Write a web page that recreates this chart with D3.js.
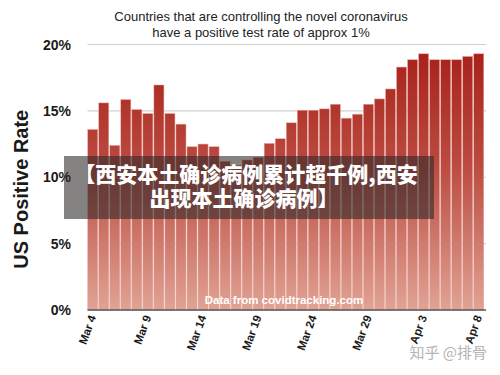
<!DOCTYPE html>
<html>
<head>
<meta charset="utf-8">
<script src="https://cdn.jsdelivr.net/npm/d3@7"></script>
<style>
  body { margin: 0; background: #fff; }
  svg { display: block; font-family: "Liberation Sans", Arial, sans-serif; }
</style>
</head>
<body>
<div id="chart"></div>
<script>
const $ = (element) => d3.select(element);

const days = [
  "Mar 4", "Mar 5", "Mar 6", "Mar 7", "Mar 8", "Mar 9", "Mar 10", "Mar 11",
  "Mar 12", "Mar 13", "Mar 14", "Mar 15", "Mar 16", "Mar 17", "Mar 18",
  "Mar 19", "Mar 20", "Mar 21", "Mar 22", "Mar 23", "Mar 24", "Mar 25",
  "Mar 26", "Mar 27", "Mar 28", "Mar 29", "Mar 30", "Mar 31", "Apr 1",
  "Apr 2", "Apr 3", "Apr 4", "Apr 5", "Apr 6", "Apr 7", "Apr 8",
];
const positiveRate = [
  13.6, 15.6, 12.4, 15.85, 15.1, 14.8, 16.95, 14.8, 14.0, 12.3, 12.5, 12.3,
  11.2, 10.9, 11.3, 11.5, 12.55, 12.9, 14.1, 15.05, 15.05, 15.15, 15.5,
  14.45, 14.75, 15.5, 15.9, 16.65, 18.3, 18.85, 19.3, 18.85, 18.85, 18.85,
  19.1, 19.3,
];
const xTicks = ["Mar 4", "Mar 9", "Mar 14", "Mar 19", "Mar 24", "Mar 29", "Apr 3", "Apr 8"];
const yTicks = [0, 5, 10, 15, 20];
const titleLines = [
  "Countries that are controlling the novel coronavirus",
  "have a positive test rate of approx 1%",
];
const bannerLines = ["【西安本土确诊病例累计超千例,西安", "出现本土确诊病例】"];

const width = 500;
const height = 375;
const margin = { top: 44.5, right: 16, bottom: 65, left: 87.5 };

const svg = $("#chart")
  .append("svg")
  .attr("viewBox", [0, 0, width, height])
  .attr("width", width)
  .attr("height", height);

const x = d3
  .scaleBand()
  .domain(days)
  .range([margin.left, width - margin.right])
  .paddingInner(0.09)
  .paddingOuter(0.02);

const y = d3
  .scaleLinear()
  .domain([0, 20])
  .range([height - margin.bottom, margin.top]);

// gradient runs over the whole plot height so every bar shares it
const grad = svg
  .append("defs")
  .append("linearGradient")
  .attr("id", "barFill")
  .attr("gradientUnits", "userSpaceOnUse")
  .attr("x1", 0)
  .attr("x2", 0)
  .attr("y1", y(20))
  .attr("y2", y(0));
grad.append("stop").attr("offset", "0%").attr("stop-color", "#a61f18");
grad.append("stop").attr("offset", "45%").attr("stop-color", "#bb4a40");
grad.append("stop").attr("offset", "100%").attr("stop-color", "#e0a394");

// gridlines
svg
  .append("g")
  .selectAll("line")
  .data(yTicks.filter((d) => d > 0))
  .join("line")
  .attr("x1", margin.left)
  .attr("x2", width - margin.right + 2)
  .attr("y1", (d) => y(d))
  .attr("y2", (d) => y(d))
  .attr("stroke", "#d0d0d0")
  .attr("stroke-width", 1.2);

// bars
svg
  .append("g")
  .selectAll("rect")
  .data(days.map((day, i) => ({ day, value: positiveRate[i] })))
  .join("rect")
  .attr("x", (d) => x(d.day))
  .attr("y", (d) => y(d.value))
  .attr("width", x.bandwidth())
  .attr("height", (d) => y(0) - y(d.value))
  .attr("fill", "url(#barFill)")
  .attr("stroke", "#e9a9a0")
  .attr("stroke-width", 0.5);

// baseline
svg
  .append("line")
  .attr("x1", margin.left)
  .attr("x2", width - margin.right + 2)
  .attr("y1", y(0))
  .attr("y2", y(0))
  .attr("stroke", "#555")
  .attr("stroke-width", 1.5);

// y labels
svg
  .append("g")
  .selectAll("text")
  .data(yTicks)
  .join("text")
  .attr("x", 71)
  .attr("y", (d) => y(d))
  .attr("dy", "0.36em")
  .attr("text-anchor", "end")
  .attr("font-size", 14)
  .attr("font-weight", "bold")
  .attr("fill", "#1a1a1a")
  .text((d) => d + "%");

// x labels
svg
  .append("g")
  .selectAll("text")
  .data(xTicks)
  .join("text")
  .attr(
    "transform",
    (d) => `translate(${x(d) + x.bandwidth() / 2 + 3.5},${y(0) + 7}) rotate(-70)`
  )
  .attr("text-anchor", "end")
  .attr("font-size", 11.5)
  .attr("font-weight", "bold")
  .attr("fill", "#1a1a1a")
  .text((d) => d);

// y title
svg
  .append("text")
  .attr("transform", `translate(28,${(y(0) + y(20)) / 2 + 12}) rotate(-90)`)
  .attr("text-anchor", "middle")
  .attr("font-size", 20)
  .attr("font-weight", "bold")
  .attr("fill", "#1a1a1a")
  .text("US Positive Rate");

// title
svg
  .append("g")
  .selectAll("text")
  .data(titleLines)
  .join("text")
  .attr("x", 261)
  .attr("y", (_, i) => 21 + i * 16)
  .attr("text-anchor", "middle")
  .attr("font-size", 13)
  .attr("fill", "#222")
  .text((d) => d);

// source note
svg
  .append("text")
  .attr("x", 284)
  .attr("y", 304)
  .attr("text-anchor", "middle")
  .attr("font-size", 11.5)
  .attr("font-weight", "bold")
  .attr("fill", "#fff")
  .text("Data from covidtracking.com");

// banner overlay
svg
  .append("rect")
  .attr("x", 64)
  .attr("y", 156)
  .attr("width", 370)
  .attr("height", 63)
  .attr("fill", "rgba(45,40,40,0.58)");

const banner = svg
  .append("text")
  .attr("y", 182)
  .attr("text-anchor", "middle")
  .attr("font-family", "'Noto Sans CJK SC', sans-serif")
  .attr("font-size", 21)
  .attr("font-weight", 900)
  .attr("fill", "#fff");
banner
  .selectAll("tspan")
  .data(bannerLines)
  .join("tspan")
  .attr("x", (_, i) => (i === 0 ? 246 : 244))
  .attr("dy", (_, i) => (i === 0 ? 0 : 24))
  .text((d) => d);

// watermark
svg
  .append("text")
  .attr("x", 487)
  .attr("y", 358)
  .attr("text-anchor", "end")
  .attr("font-family", "'Noto Sans CJK SC', sans-serif")
  .attr("font-size", 15)
  .attr("fill", "#b5b5b5")
  .text("知乎 @排骨");
</script>
</body>
</html>
